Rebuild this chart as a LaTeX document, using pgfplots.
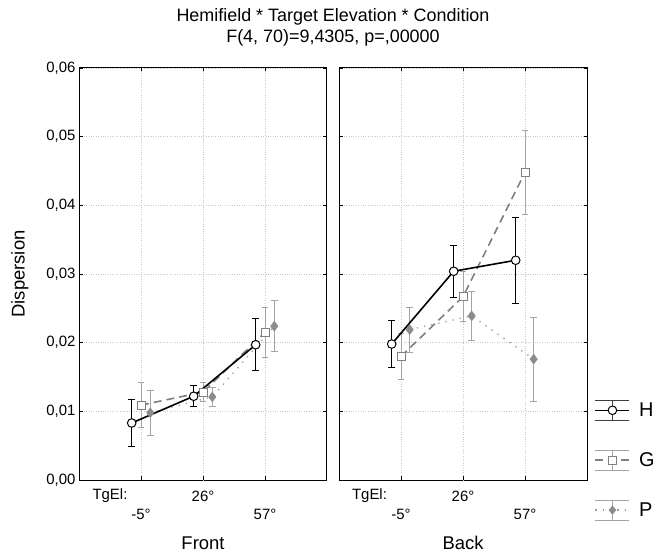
\documentclass[border=0pt]{standalone}
\usepackage{fontspec}
\setmainfont{Liberation Sans}
\usepackage{pgfplots}
\pgfplotsset{compat=1.18}

\definecolor{gline}{HTML}{808080}
\definecolor{gerr}{HTML}{A4A4A4}
\definecolor{pline}{HTML}{9A9A9A}
\definecolor{pmark}{HTML}{8C8C8C}
\definecolor{gridc}{HTML}{C8C8C8}

\pgfplotsset{
 panel/.style={
  scale only axis,width=248bp,height=412bp,
  xmin=0,xmax=4,ymin=0,ymax=0.06,
  ytick={0,0.01,0.02,0.03,0.04,0.05,0.06},
  scaled y ticks=false,
  yticklabel style={font=\fontsize{15}{18}\selectfont,
   /pgf/number format/fixed,/pgf/number format/fixed zerofill,
   /pgf/number format/precision=2,/pgf/number format/use comma,
   /pgf/number format/assume math mode=true},
  xtick={1,3},xticklabels={-5°,57°},
  xticklabel style={font=\fontsize{15}{18}\selectfont,anchor=center,yshift=-34bp},
  extra x ticks={2},extra x tick labels={26°},
  extra x tick style={grid=major,xticklabel style={yshift=18bp}},
  tick align=inside,major tick length=3.5bp,
  tick style={black,line width=0.8bp},
  axis line style={black,line width=1bp},
  grid=major,grid style={gridc,dotted,line width=0.7bp},
  label style={font=\fontsize{18.5}{22}\selectfont},
  xlabel style={at={(axis description cs:0.5,-0.153)},anchor=center},
  clip=false,
 },
 ebars/.style={
  /pgfplots/error bars/y dir=both,/pgfplots/error bars/y explicit,
  /pgfplots/error bars/error bar style={#1,line width=0.9bp,solid},
  /pgfplots/error bars/error mark options={rotate=90,#1,line width=0.9bp,mark size=3.3bp,solid}},
 hstyle/.style={black,line width=1.6bp,mark=*,mark size=4.3bp,
  mark options={solid,fill=white,draw=black,line width=1bp},ebars=black},
 gstyle/.style={gline,line width=1.6bp,dash pattern=on 8bp off 5bp,mark=square*,mark size=4bp,
  mark options={solid,fill=white,draw=gline,line width=0.9bp},ebars=gerr},
 pstyle/.style={pline,line width=1.3bp,dash pattern=on 1.3bp off 6bp,mark=diamond*,mark size=4.3bp,
  mark options={solid,fill=pmark,draw=pmark},ebars=gerr},
}

\begin{document}
\begin{tikzpicture}
\path[use as bounding box] (0bp,0bp) rectangle (659bp,555bp);

\node[align=center,font=\fontsize{18}{21}\selectfont] at (333bp,528bp)
 {Hemifield * Target Elevation * Condition\\F(4, 70)=9,4305, p=,00000};

% Front
\begin{axis}[panel,at={(79bp,75bp)},anchor=south west,
 xlabel=Front,ylabel=Dispersion,
 ylabel style={at={(axis description cs:-0.238,0.5)},anchor=center}]
\addplot[pstyle] coordinates {
 (1.15,0.0098) +- (0,0.0033)
 (2.15,0.0121) +- (0,0.00145)
 (3.15,0.0224) +- (0,0.0037)
};
\addplot[gstyle] coordinates {
 (1,0.0109) +- (0,0.0033)
 (2,0.0128) +- (0,0.0014)
 (3,0.0215) +- (0,0.0036)
};
\addplot[hstyle] coordinates {
 (0.85,0.0083) +- (0,0.0034)
 (1.85,0.0122) +- (0,0.0015)
 (2.85,0.0197) +- (0,0.0038)
};
\node[font=\fontsize{15}{18}\selectfont] at (axis description cs:0.125,-0.0388) {TgEl:};
\end{axis}

% Back
\begin{axis}[panel,at={(339bp,75bp)},anchor=south west,
 xlabel=Back,yticklabels={},
 legend style={at={(axis description cs:1.03,0.195)},anchor=north west,
  draw=none,fill=none,font=\fontsize{20}{24}\selectfont,row sep=29bp,
  column sep=7bp,inner sep=0pt},
 legend cell align=left]
\addplot[forget plot,pstyle] coordinates {
 (1.14,0.0219) +- (0,0.0033)
 (2.14,0.0239) +- (0,0.0036)
 (3.14,0.0176) +- (0,0.0061)
};
\addplot[forget plot,gstyle] coordinates {
 (1,0.0180) +- (0,0.0033)
 (2,0.0267) +- (0,0.0036)
 (3,0.0448) +- (0,0.0061)
};
\addplot[forget plot,hstyle] coordinates {
 (0.85,0.0198) +- (0,0.0034)
 (1.85,0.0304) +- (0,0.0038)
 (2.85,0.0320) +- (0,0.0063)
};
\node[font=\fontsize{15}{18}\selectfont] at (axis description cs:0.123,-0.0388) {TgEl:};
\addlegendimage{legend image code/.code={
 \draw[black!75,line width=0.9bp] (0bp,10bp)--(34bp,10bp) (0bp,-10bp)--(34bp,-10bp) (17bp,-10bp)--(17bp,10bp);
 \draw[black,line width=1.6bp] (0bp,0bp)--(34bp,0bp);
 \draw[black,fill=white,line width=1bp] (17bp,0bp) circle (4.3bp);}}
\addlegendentry{H}
\addlegendimage{legend image code/.code={
 \draw[gerr,line width=0.9bp] (0bp,10bp)--(34bp,10bp) (0bp,-10bp)--(34bp,-10bp) (17bp,-10bp)--(17bp,10bp);
 \draw[gline,line width=1.6bp,dash pattern=on 8bp off 5bp] (0bp,0bp)--(34bp,0bp);
 \draw[gline,fill=white,line width=0.9bp] (13bp,-4bp) rectangle (21bp,4bp);}}
\addlegendentry{G}
\addlegendimage{legend image code/.code={
 \draw[gerr,line width=0.9bp] (0bp,10bp)--(34bp,10bp) (0bp,-10bp)--(34bp,-10bp) (17bp,-10bp)--(17bp,10bp);
 \draw[pline,line width=1.3bp,dash pattern=on 1.3bp off 6bp] (0bp,0bp)--(34bp,0bp);
 \fill[pmark] (17bp,4.3bp)--(20.5bp,0bp)--(17bp,-4.3bp)--(13.5bp,0bp)--cycle;}}
\addlegendentry{P}
\end{axis}
\end{tikzpicture}
\end{document}
